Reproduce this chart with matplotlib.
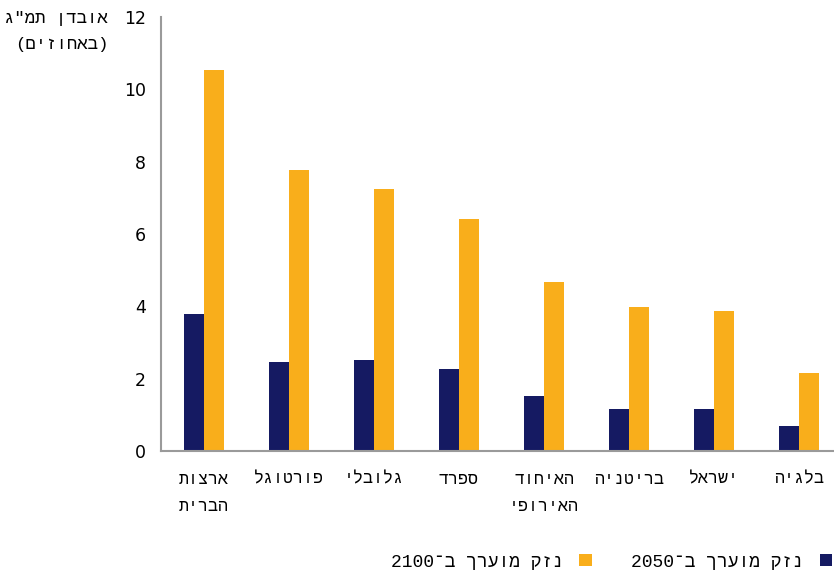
import matplotlib
matplotlib.use("Agg")
import matplotlib.pyplot as plt
import numpy as np

plt.rcParams['font.family'] = ['Liberation Mono', 'DejaVu Sans Mono', 'DejaVu Sans']

# Hebrew strings given in visual (left-to-right display) order
categories = ["ארצות\nהברית", "פורטוגל", "גלובלי", "ספרד", "האיחוד\nהאירופי",
              "בריטניה", "ישראל", "בלגיה"]
damage_2050 = [3.78, 2.47, 2.52, 2.27, 1.52, 1.16, 1.16, 0.70]
damage_2100 = [10.53, 7.77, 7.24, 6.41, 4.67, 3.97, 3.88, 2.17]
series_names = ["נזק מוערך ב־2050", "נזק מוערך ב־2100"]
ylabel_lines = ["אובדן תמ\"ג", "(באחוזים)"]
yticks = [0, 2, 4, 6, 8, 10, 12]


def visual(s):
    """Reverse Hebrew runs for LTR rendering, keeping digit runs intact."""
    out_lines = []
    for line in s.split("\n"):
        tokens = []
        buf = ""
        for ch in line:
            if ch.isdigit():
                buf += ch
            else:
                if buf:
                    tokens.append(buf)
                    buf = ""
                tokens.append(ch)
        if buf:
            tokens.append(buf)
        tokens = tokens[::-1]
        mirror = {"(": ")", ")": "("}
        tokens = [mirror.get(t, t) for t in tokens]
        out_lines.append("".join(tokens))
    return "\n".join(out_lines)


dark = "#151a62"
orange = "#f9ae1b"
gray = "#9a9a9a"

fig = plt.figure(figsize=(8.34, 5.76), dpi=100)
ax = fig.add_axes([161/834, 1-451/576, (842-161)/834, (451-17)/576])

x = np.arange(len(categories))
w = 0.235
b1 = ax.bar(x - w/2, damage_2050, w, color=dark, label=visual(series_names[0]))
b2 = ax.bar(x + w/2, damage_2100, w, color=orange, label=visual(series_names[1]))

ax.set_xlim(-0.5, len(categories) - 0.5)
ax.set_ylim(0, 12)
ax.set_yticks(yticks)
ax.set_yticklabels([str(t) for t in yticks], fontsize=12.5, family='DejaVu Sans')
ax.set_xticks(x)
ax.set_xticklabels([visual(c) for c in categories], fontsize=12, linespacing=2.05)
ax.tick_params(axis='y', length=0, pad=11)
ax.tick_params(axis='x', length=0, pad=15)

for s in ['top', 'right']:
    ax.spines[s].set_visible(False)
for s in ['left', 'bottom']:
    ax.spines[s].set_color(gray)
    ax.spines[s].set_linewidth(1.5)

fig.text(108/834, 1-18/576, visual(ylabel_lines[0]), ha='right', va='center', fontsize=12.5)
fig.text(108/834, 1-44/576, visual(ylabel_lines[1]), ha='right', va='center', fontsize=12.5)

leg = fig.legend([b2, b1], [visual(series_names[1]), visual(series_names[0])],
                 loc='center right', bbox_to_anchor=(832/834, 1-562/576),
                 ncol=2, frameon=False, markerfirst=False, fontsize=13,
                 handlelength=0.68, handleheight=0.68, handletextpad=0.9,
                 columnspacing=2.2, borderaxespad=0, borderpad=0)

fig.savefig("out.png", dpi=100)
